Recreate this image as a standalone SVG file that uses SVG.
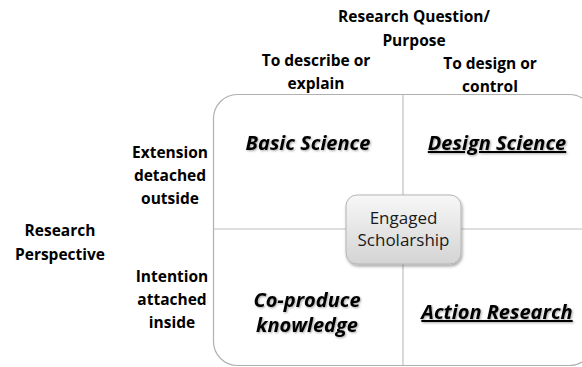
<svg xmlns="http://www.w3.org/2000/svg" width="582" height="367" viewBox="0 0 582 367">
<defs>
<style>
.lbl{font-family:"Open Sans","Liberation Sans",sans-serif;font-weight:bold;font-size:15.5px;fill:#000;text-anchor:middle}
.q{font-family:"Open Sans","Liberation Sans",sans-serif;font-weight:bold;font-style:italic;font-size:20px;fill:#000;text-anchor:middle}
.u{text-decoration:underline}
.c{font-family:"Open Sans","Liberation Sans",sans-serif;font-size:17px;fill:#1a1a1a;text-anchor:middle}
.div{stroke:#bfbfbf;stroke-width:1.2;fill:none}
</style>
<linearGradient id="g" x1="0" y1="0" x2="0" y2="1">
<stop offset="0" stop-color="#f7f7f7"/>
<stop offset="1" stop-color="#d4d4d4"/>
</linearGradient>
<filter id="sh" x="-20%" y="-20%" width="140%" height="150%">
<feDropShadow dx="1" dy="2" stdDeviation="1.5" flood-color="#000" flood-opacity="0.35"/>
</filter>
<filter id="glow" x="-10%" y="-30%" width="120%" height="160%">
<feDropShadow dx="1" dy="1" stdDeviation="0.8" flood-color="#000" flood-opacity="0.35"/>
</filter>
</defs>
<g id="matrix">
<rect x="213.5" y="94.5" width="380" height="271" rx="24" fill="#fff" stroke="#b0b0b0" stroke-width="1.2"/>
</g>
<g id="connectors">
<line class="div" x1="403" y1="95" x2="403" y2="365"/>
<line class="div" x1="214" y1="229" x2="582" y2="229"/>
</g>
<g id="header">
<text class="lbl" x="414" y="22">Research Question/</text>
<text class="lbl" x="414" y="46">Purpose</text>
<text class="lbl" x="316" y="66">To describe or</text>
<text class="lbl" x="316" y="89">explain</text>
<text class="lbl" x="490" y="69">To design or</text>
<text class="lbl" x="490" y="92">control</text>
</g>
<g id="rows">
<text class="lbl" x="170" y="158">Extension</text>
<text class="lbl" x="170" y="181">detached</text>
<text class="lbl" x="170" y="204">outside</text>
<text class="lbl" x="60" y="236">Research</text>
<text class="lbl" x="60" y="260">Perspective</text>
<text class="lbl" x="172" y="282">Intention</text>
<text class="lbl" x="172" y="305">attached</text>
<text class="lbl" x="172" y="328">inside</text>
</g>
<g id="basic-science" filter="url(#glow)">
<text class="q" x="308" y="150">Basic Science</text>
</g>
<g id="design-science" filter="url(#glow)">
<text class="q u" x="497" y="150">Design Science</text>
</g>
<g id="co-produce" filter="url(#glow)">
<text class="q" x="307" y="307">Co-produce</text>
<text class="q" x="307" y="332">knowledge</text>
</g>
<g id="action-research" filter="url(#glow)">
<text class="q u" x="497" y="319">Action Research</text>
</g>
<g id="engaged-scholarship">
<rect x="346" y="195" width="115" height="69" rx="11" fill="url(#g)" stroke="#b5b5b5" stroke-width="1" filter="url(#sh)"/>
<text class="c" x="403.5" y="224">Engaged</text>
<text class="c" x="403.5" y="246">Scholarship</text>
</g>
</svg>
